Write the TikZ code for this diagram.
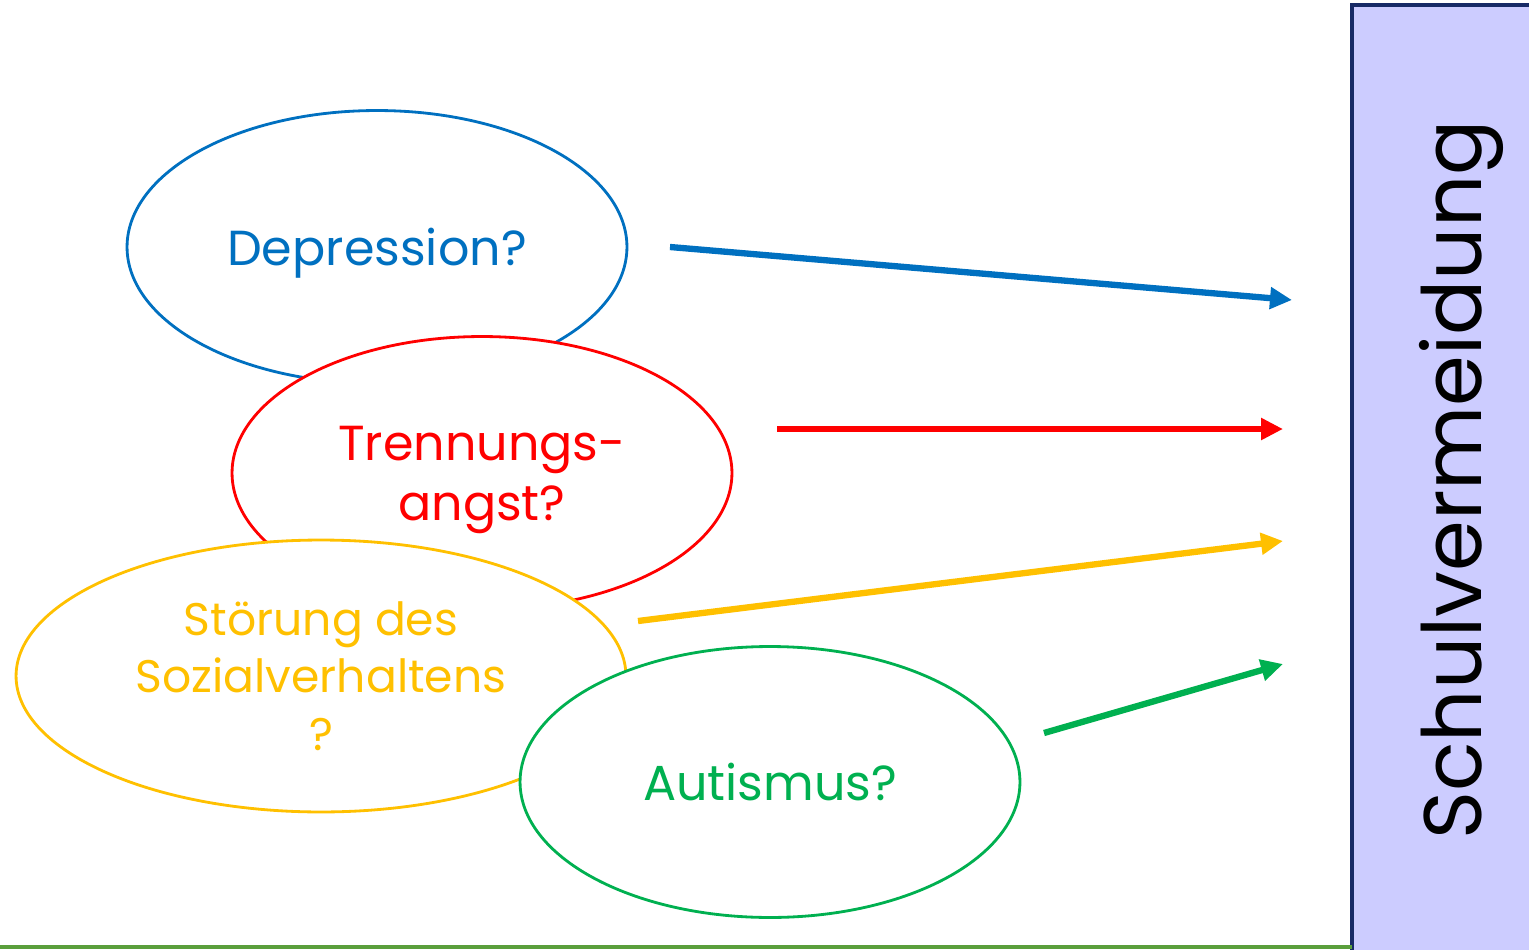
\documentclass[tikz,border=0pt]{standalone}
\usepackage{fontspec}
\setmainfont{Poppins}
\usetikzlibrary{arrows.meta,shapes.geometric}
\definecolor{dblue}{HTML}{0070C0}
\definecolor{dred}{HTML}{FF0000}
\definecolor{dyellow}{HTML}{FFC000}
\definecolor{dgreen}{HTML}{00B050}
\definecolor{boxfill}{HTML}{CCCCFF}
\definecolor{boxline}{HTML}{172A66}
\definecolor{lgreen}{HTML}{5A9F3C}
\tikzset{
  diag/.style={ellipse,draw=#1,fill=white,line width=1.6pt,text=#1,
    inner sep=0pt,minimum width=10cm,minimum height=5.46cm,align=center,
    text depth=0pt,font=\fontsize{28}{34}\selectfont},
  pfeil/.style={-{Triangle[length=0.44cm,width=0.42cm]},line width=3.6pt,#1}
}
\begin{document}
\begin{tikzpicture}[x=0.02cm,y=-0.02cm]
  \useasboundingbox (0,0) rectangle (1529,950);
  % Schulvermeidung
  \draw[fill=boxfill,draw=boxline,line width=2pt] (1352,5) rectangle (1560,980);
  \node[rotate=90,font=\fontsize{46.5}{56}\selectfont] (schule) at (1461,480) {Schulvermeidung};
  \draw[lgreen,line width=2.2pt] (0,947) -- (1352,947);
  % Diagnosen
  \node[diag=dblue] (dep) at (377,247) {Depression?};
  \node[diag=dred] (tren) at (482,473) {Trennungs-\\angst?};
  \node[diag=dyellow,minimum width=12.2cm,minimum height=5.44cm,
    font=\fontsize{26}{32.5}\selectfont] (stoer) at (321,676)
    {Störung des\\Sozialverhaltens\\?};
  \node[diag=dgreen,minimum height=5.42cm] (aut) at (770,782) {Autismus?};
  % Pfeilenden
  \coordinate (dep-a) at (670,247);
  \coordinate (dep-b) at (1292,300);
  \coordinate (tren-a) at (777,429);
  \coordinate (tren-b) at (1283,429);
  \coordinate (stoer-a) at (638,621);
  \coordinate (stoer-b) at (1283,541);
  \coordinate (aut-a) at (1044,733);
  \coordinate (aut-b) at (1283,664);
  % Pfeile
  \draw[pfeil=dblue] (dep-a) -- (dep-b);
  \draw[pfeil=dred] (tren-a) -- (tren-b);
  \draw[pfeil=dyellow] (stoer-a) -- (stoer-b);
  \draw[pfeil=dgreen] (aut-a) -- (aut-b);
\end{tikzpicture}
\end{document}
